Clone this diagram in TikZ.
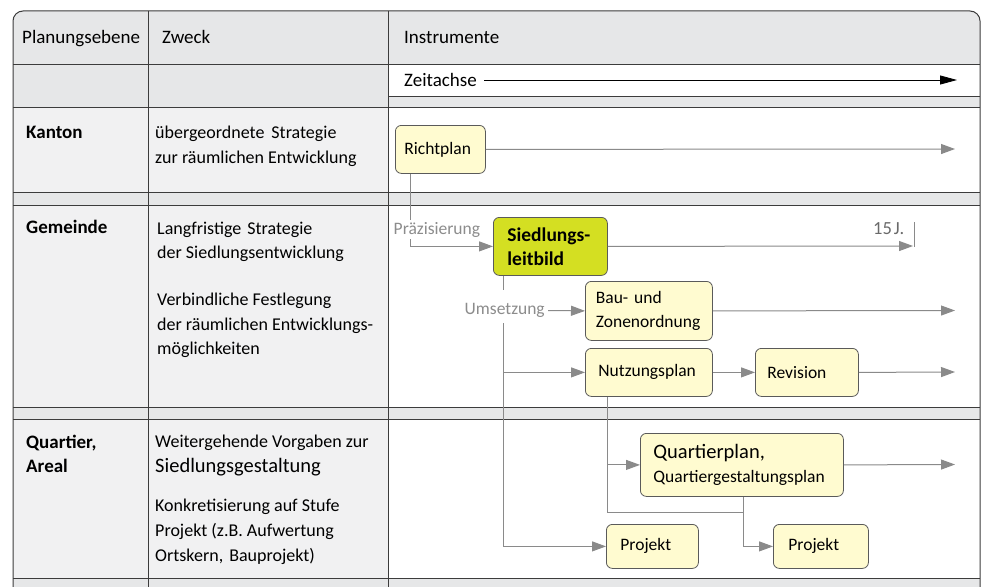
\documentclass[tikz,border=0pt]{standalone}
\usepackage{fontspec}
\setmainfont{Carlito}
\usetikzlibrary{arrows.meta}
\definecolor{hdr}{HTML}{E6E7E8}
\definecolor{cell}{HTML}{F1F1F2}
\definecolor{boxfill}{HTML}{FFFBD0}
\definecolor{slfill}{HTML}{D4DF22}
\definecolor{gridline}{HTML}{3C3C3C}
\definecolor{boxline}{HTML}{5A5A5A}
\definecolor{arrowgray}{HTML}{8A8A8A}
\definecolor{labelgray}{HTML}{8C8C8C}
\definecolor{darklabel}{HTML}{6A6A6A}
\newcommand\boxfont{\fontsize{17.5}{24}\selectfont}
\newcommand\hdrfont{\fontsize{19}{23}\selectfont}
\newcommand\colfont{\fontsize{18}{24}\selectfont}
\newcommand\namefont{\fontsize{19}{24}\selectfont\bfseries}
\begin{document}
\begin{tikzpicture}[x=1pt,y=-1pt,
  grid/.style={draw=gridline, line width=1pt},
  box/.style={draw=boxline, line width=0.8pt, fill=boxfill, rounded corners=6pt, anchor=north west, align=left, inner ysep=0pt, font=\boxfont},
  conn/.style={draw=arrowgray, line width=1pt, -{Triangle[length=14pt,width=10pt]}},
  wire/.style={draw=arrowgray, line width=1pt},
  txt/.style={anchor=base west, inner sep=0pt},
  lbl/.style={text=labelgray, font=\boxfont, inner sep=1.5pt, fill=white}
]
\useasboundingbox (0,0) rectangle (984,586);
\clip (0,0) rectangle (984,586);
% fills
\fill[hdr, rounded corners=10pt] (13,11) rectangle (980,120);
\fill[white] (388,64) rectangle (980,96);
\fill[cell] (13,107) rectangle (388,192);
\fill[white] (388,107) rectangle (980,192);
\fill[hdr] (13,192) rectangle (980,205);
\fill[cell] (13,205) rectangle (388,407);
\fill[white] (388,205) rectangle (980,407);
\fill[hdr] (13,407) rectangle (980,419);
\fill[cell] (13,419) rectangle (388,578);
\fill[white] (388,419) rectangle (980,578);
\fill[hdr] (13,578) rectangle (980,600);
% grid
\draw[grid, rounded corners=10pt] (13,600) -- (13,11) -- (980,11) -- (980,600);
\foreach \yy in {64,107,192,205,407,419,578} \draw[grid] (13,\yy) -- (980,\yy);
\draw[grid] (388,96) -- (980,96);
\draw[grid] (148,11) -- (148,600);
\draw[grid] (388,11) -- (388,600);
% header texts
\node[txt, font=\hdrfont] (h1) at (22,44) {Planungsebene};
\node[txt, font=\hdrfont] (h2) at (162,44) {Zweck};
\node[txt, font=\hdrfont] (h3) at (404,44) {Instrumente};
\node[txt, font=\hdrfont] (za) at (404,86) {Zeitachse};
\coordinate (za1) at (484,80);
\coordinate (za2) at (957,80);
\draw[black, line width=0.8pt, -{Triangle[length=17pt,width=9pt]}] (za1) -- (za2);
% left column
\node[txt, font=\namefont] (n1) at (26,138) {Kanton};
\node[txt, font=\namefont] (n2) at (26,233) {Gemeinde};
\node[txt, font=\namefont] (n3) at (26,448) {Quartier,};
\node[txt, font=\namefont] (n4) at (26,472) {Areal};
\node[txt, font=\colfont] (z1) at (155,138) {übergeordnete\hspace{7pt}Strategie};
\node[txt, font=\colfont] (z2) at (155,163) {zur räumlichen Entwicklung};
\node[txt, font=\colfont] (z3) at (157,234) {Langfristige\hspace{6pt}Strategie};
\node[txt, font=\colfont] (z4) at (157,258) {der Siedlungsentwicklung};
\node[txt, font=\colfont] (z5) at (157,305) {Verbindliche Festlegung};
\node[txt, font=\colfont] (z6) at (157,330) {der räumlichen Entwicklungs-};
\node[txt, font=\colfont] (z7) at (157,354) {möglichkeiten};
\node[txt, font=\colfont] (z8) at (155,447) {Weitergehende Vorgaben zur};
\node[txt, font=\fontsize{20.5}{24}\selectfont] (z9) at (155,472) {Siedlungsgestaltung};
\node[txt, font=\colfont] (z10) at (155,511) {Konkretisierung auf Stufe};
\node[txt, font=\colfont] (z11) at (155,536) {Projekt (z.B. Aufwertung};
\node[txt, font=\colfont] (z12) at (155,561) {Ortskern,\hspace{6pt}Bauprojekt)};
% boxes
\node[box, inner xsep=9pt, text width=72pt, minimum height=48pt] (rp) at (395,125) {Richtplan};
\node[box, fill=slfill, inner xsep=14pt, text width=86pt, minimum height=58pt, font=\fontsize{19.5}{24}\selectfont\bfseries] (sl) at (493,217) {Siedlungs-\\leitbild};
\node[box, inner xsep=10.5pt, text width=106pt, minimum height=59pt] (bz) at (585,281) {Bau- und\\Zonenordnung};
\node[box, inner xsep=13pt, text width=101pt, minimum height=48pt] (np) at (585,348) {Nutzungsplan};
\node[box, inner xsep=12pt, text width=79pt, minimum height=48pt] (rv) at (755,348) {Revision};
\node[box, inner xsep=13pt, text width=177pt, minimum height=63pt] (qp) at (640,433) {{\fontsize{20.5}{26}\selectfont Quartierplan,}\\Quartiergestaltungsplan};
\node[box, inner xsep=14pt, text width=64pt, minimum height=44pt] (pj1) at (606,524) {Projekt};
\node[box, inner xsep=15pt, text width=65pt, minimum height=44pt] (pj2) at (773,524) {Projekt};
% end coordinates
\coordinate (e1) at (955,149);
\coordinate (e15) at (913,246);
\coordinate (t1) at (914,222);
\coordinate (t2) at (914,247);
\coordinate (e2) at (955,310.5);
\coordinate (e3) at (955,372);
\coordinate (e4) at (955,464.5);
\coordinate (sv) at ([xshift=10pt]sl.south west);
\coordinate (u1) at (503,290);
\coordinate (u2) at (503,323);
\coordinate (ua) at (548,310.5);
\coordinate (nv) at ([xshift=22pt]np.south west);
\coordinate (nb) at (607,512);
\coordinate (qv) at ([xshift=103pt]qp.south west);
\coordinate (qb) at (743,512);
% connectors
\draw[conn] (rp.east) -- (e1);
\draw[conn] ([xshift=15pt]rp.south west) |- (sl.west);
\draw[conn] (sl.east) -- (e15);
\draw[wire] (t1) -- (t2);
\draw[wire] (sv) -- (u1);
\draw[conn] (u2) |- (pj1.west);
\draw[conn] (sv |- np.west) -- (np.west);
\draw[conn] (ua) -- (bz.west);
\draw[conn] (bz.east) -- (e2);
\draw[conn] (np.east) -- (rv.west);
\draw[conn] (rv.east) -- (e3);
\draw[wire] (nv) -- (nb) -- (qb);
\draw[conn] (nv |- qp.west) -- (qp.west);
\draw[conn] (qp.east) -- (e4);
\draw[conn] (qv) |- (pj2.west);
% gray labels
\node[lbl, anchor=base west] (pz) at (392,234) {Präzisierung};
\node[lbl, anchor=base east, fill=none, text=darklabel, font=\fontsize{18.5}{24}\selectfont] (fj) at (906,234) {15\hspace{2pt}J.};
\node[lbl, anchor=base west, fill=none] (um) at (463,314) {Umsetzung};
\end{tikzpicture}
\end{document}
